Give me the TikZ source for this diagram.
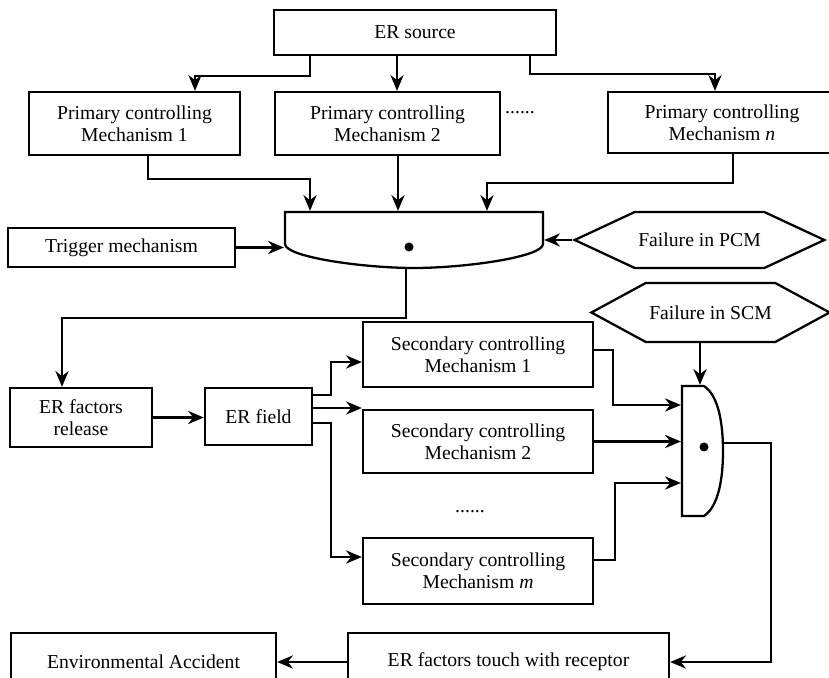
\documentclass[tikz,border=0pt]{standalone}
\usepackage{fontspec}
\setmainfont{Liberation Serif}
\usetikzlibrary{arrows.meta,shapes.symbols}

\tikzset{
  box/.style={draw, line width=1.3pt, align=center, inner sep=2pt},
  hexa/.style={draw, line width=1.3pt, signal, signal to=west and east, inner sep=2pt},
  gate/.style={inner sep=0pt},
  arr/.style={-{Stealth[length=9pt,width=7.5pt]}, line width=1.3pt},
}

\begin{document}
\begin{tikzpicture}[font=\fontsize{11.2}{12.5}\selectfont, line width=1.3pt]
  \useasboundingbox (0,0) rectangle (16.58,13.54);
  % source and primary controlling mechanisms
  \node[box, minimum width=5.64cm, minimum height=0.90cm] (src) at (8.30,12.89) {ER source};
  \node[box, minimum width=4.22cm, minimum height=1.26cm] (pcm1) at (2.69,11.07) {Primary controlling\\Mechanism 1};
  \node[box, minimum width=4.50cm, minimum height=1.26cm] (pcm2) at (7.75,11.07) {Primary controlling\\Mechanism 2};
  \node[box, minimum width=4.56cm, minimum height=1.22cm] (pcmn) at (14.44,11.09) {Primary controlling\\Mechanism \textit{n}};
  \node[inner sep=0pt] (dots1) at (10.40,11.28) {......};
  \draw[arr] ([xshift=-2.10cm]src.south) -- ++(0,-0.40) -| ([xshift=1.21cm]pcm1.north);
  \draw[arr] ([xshift=-0.36cm]src.south) -- ([xshift=-0.36cm]src.south |- pcm2.north);
  \draw[arr] ([xshift=2.30cm]src.south) -- ++(0,-0.36) -| ([xshift=-0.14cm]pcmn.north);

  % first gate
  \node[gate, minimum width=5.16cm, minimum height=1.12cm] (gate1) at (8.28,8.74) {};
  \draw (5.70,9.30) -- (10.86,9.30) -- (10.86,8.66)
    .. controls (10.86,8.40) and (9.30,8.18) .. (8.28,8.18)
    .. controls (7.26,8.18) and (5.70,8.40) .. (5.70,8.66) -- cycle;
  \fill (8.18,8.60) circle (0.09);
  \node[box, minimum width=4.54cm, minimum height=0.78cm] (trig) at (2.43,8.59) {Trigger mechanism};
  \node[hexa, signal pointer angle=50, minimum width=4.90cm, minimum height=1.12cm] (fpcm) at (13.99,8.74) {Failure in PCM};
  \draw[arr] ([xshift=0.27cm]pcm1.south) -- ++(0,-0.46) -| ([xshift=-2.08cm]gate1.north);
  \draw[arr] ([xshift=0.21cm]pcm2.south) -- ([xshift=0.21cm]pcm2.south |- gate1.north);
  \draw[arr] ([xshift=0.22cm]pcmn.south) -- ++(0,-0.58) -| ([xshift=1.46cm]gate1.north);
  \draw[arr] (trig.east) -- (trig.east -| gate1.west);
  \draw[arr] (fpcm.west) -- (fpcm.west -| gate1.east);

  % release, field and secondary controlling mechanisms
  \node[box, minimum width=2.84cm, minimum height=1.18cm] (rel) at (1.62,5.19) {ER factors\\release};
  \node[box, minimum width=2.14cm, minimum height=1.14cm] (field) at (5.17,5.21) {ER field};
  \node[box, minimum width=4.60cm, minimum height=1.30cm] (scm1) at (9.56,6.45) {Secondary controlling\\Mechanism 1};
  \node[box, minimum width=4.60cm, minimum height=1.26cm] (scm2) at (9.56,4.71) {Secondary controlling\\Mechanism 2};
  \node[inner sep=0pt] (dots2) at (9.40,3.30) {......};
  \node[box, minimum width=4.60cm, minimum height=1.32cm] (scmm) at (9.56,2.12) {Secondary controlling\\Mechanism \textit{m}};
  \node[hexa, signal pointer angle=57, minimum width=4.70cm, minimum height=1.18cm] (fscm) at (14.21,7.29) {Failure in SCM};
  \draw[arr] ([xshift=-0.16cm]gate1.south) -- ++(0,-0.98) -| ([xshift=-0.38cm]rel.north);
  \draw[arr] (rel.east) -- (rel.east -| field.west);
  \draw[arr] ([yshift=0.43cm]field.east) -- ++(0.36,0) |- ([yshift=-0.15cm]scm1.west);
  \draw[arr] ([yshift=0.17cm]field.east) -- ([yshift=0.17cm]field.east -| scm2.west);
  \draw[arr] ([yshift=-0.13cm]field.east) -- ++(0.36,0) |- ([yshift=0.28cm]scmm.west);

  % second gate
  \node[gate, minimum width=0.82cm, minimum height=2.60cm] (gate2) at (14.05,4.52) {};
  \draw (14.08,5.82) -- (13.64,5.82) -- (13.64,3.22) -- (14.08,3.22)
    .. controls (14.38,3.42) and (14.46,4.00) .. (14.46,4.52)
    .. controls (14.46,5.04) and (14.38,5.62) .. (14.08,5.82);
  \fill (14.08,4.60) circle (0.09);
  \draw[arr] ([yshift=0.09cm]scm1.east) -- ++(0.38,0) |- ([yshift=0.92cm]gate2.west);
  \draw[arr] (scm2.east) -- (scm2.east -| gate2.west);
  \draw[arr] ([yshift=0.22cm]scmm.east) -- ++(0.42,0) |- ([yshift=-0.64cm]gate2.west);
  \draw[arr] ([xshift=-0.21cm]fscm.south) -- ([xshift=-0.21cm]fscm.south |- gate2.north);

  % receptor and accident
  \node[box, minimum width=6.42cm, minimum height=1.16cm] (touch) at (10.17,0.30) {ER factors touch with receptor};
  \node[box, minimum width=5.30cm, minimum height=1.16cm] (acc) at (2.87,0.30) {Environmental Accident};
  \draw[arr] ([yshift=0.16cm]gate2.east) -- ++(0.94,0) |- (touch.east);
  \draw[arr] (touch.west) -- (acc.east);
\end{tikzpicture}
\end{document}
